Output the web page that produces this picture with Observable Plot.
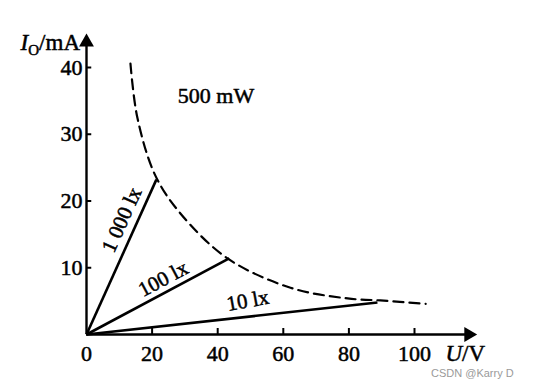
<!DOCTYPE html>
<html><head><meta charset="utf-8">
<script src="https://cdn.jsdelivr.net/npm/d3@7"></script>
<script src="https://cdn.jsdelivr.net/npm/@observablehq/plot@0.6"></script>
<style>
body{margin:0;background:#fff;}
#wrap{position:relative;width:533px;height:391px;}
#wm{position:absolute;left:431px;top:367px;font:11px "Liberation Sans",Arial,sans-serif;color:#9a9a9a;white-space:nowrap;}
</style></head>
<body><div id="wrap"><div id="wm">CSDN @Karry D</div></div>
<script>
// ---- data ----
const xTicks = [0, 20, 40, 60, 80, 100];
const yTicks = [10, 20, 30, 40];
const curveU = [13.4, 15.5, 21.0, 28.7, 43.0, 62.2, 79.6, 89.6, 103.4];
const curveI = [40.6, 32.5, 23.8, 18.1, 11.4, 7.0, 5.4, 5.1, 4.6];
const rayNames = ["1 000 lx", "100 lx", "10 lx"];
const rayU = [21.3, 43.5, 88.7];
const rayI = [23.2, 11.4, 4.8];
const powerLabel = "500 mW";
const xMaxAxis = 118, yMaxAxis = 44.6;

// ---- layout ----
const X_RANGE = [86, 414], Y_RANGE = [334, 67];
const kx = (X_RANGE[1] - X_RANGE[0]) / 100, ky = (Y_RANGE[0] - Y_RANGE[1]) / 40;

const curve = curveU.map((u, i) => ({U: u, I: curveI[i]}));
const rays = rayNames.map((n, i) => ({name: n, U: rayU[i], I: rayI[i]}));
// label placement: fraction along ray, perpendicular pixel offset
const labT = [0.70, 0.58, 0.56], labOff = [15, 13, 16], labExtraRot = [0, 0, -4];
const rayLabels = rays.map((r, i) => {
  const dxp = r.U * kx, dyp = r.I * ky, len = Math.hypot(dxp, dyp);
  const nx = -dyp / len, ny = dxp / len; // up-left normal (pixel, y up)
  return {name: r.name,
    U: labT[i] * r.U + labOff[i] * nx / kx,
    I: labT[i] * r.I + labOff[i] * ny / ky,
    rot: -Math.atan2(dyp, dxp) * 180 / Math.PI + labExtraRot[i]};
});
const serif = '"Liberation Serif","Times New Roman",serif';
const txt = {fill: "#000", stroke: "#000", strokeWidth: 0.5};

const chart = Plot.plot({
  width: 533, height: 391,
  x: {domain: [0, 100], range: X_RANGE, axis: null},
  y: {domain: [0, 40], range: Y_RANGE, axis: null},
  style: {fontFamily: serif, background: "transparent"},
  marks: [
    // axes
    Plot.ruleY([0], {x1: 0, x2: xMaxAxis - 2, strokeWidth: 2.4, stroke: "#000"}),
    Plot.ruleX([0], {y1: 0, y2: yMaxAxis - 1, strokeWidth: 2.4, stroke: "#000"}),
    Plot.dot([xMaxAxis], {x: d => d - 1.5, y: 0, symbol: "triangle", rotate: 90, r: 5.5, fill: "#000", stroke: "none"}),
    Plot.dot([yMaxAxis], {x: 0, y: d => d - 0.8, symbol: "triangle", rotate: 0, r: 5.5, fill: "#000", stroke: "none"}),
    // ticks (inside)
    Plot.ruleX(xTicks.filter(d => d > 0), {x: d => d, y1: 0, y2: 0.9, strokeWidth: 2, stroke: "#000"}),
    Plot.ruleY(yTicks, {y: d => d, x1: 0, x2: 1.6, strokeWidth: 2, stroke: "#000"}),
    Plot.text(xTicks, {x: d => d, y: 0, text: d => String(d), dy: 19, fontSize: 22, ...txt}),
    Plot.text(yTicks, {x: 0, y: d => d, text: d => String(d), dx: -4, textAnchor: "end", fontSize: 22, ...txt}),
    // 500 mW hyperbola
    Plot.line(curve, {x: "U", y: "I", curve: "catmull-rom", stroke: "#000", strokeWidth: 2.2, strokeDasharray: "10,6"}),
    // rays
    Plot.link(rays, {x1: 0, y1: 0, x2: "U", y2: "I", stroke: "#000", strokeWidth: 2.6}),
    Plot.text(rayLabels, {x: "U", y: "I", text: "name", rotate: "rot", fontSize: 21, ...txt}),
    Plot.text([powerLabel], {x: curveU[2] + 18.5, y: curveI[0] - 4.8, text: d => d, fontSize: 22, ...txt})
  ]
});
document.getElementById("wrap").prepend(chart);

// axis titles (rich text)
const svg = d3.select(chart);
const px = u => X_RANGE[0] + u * kx, py = v => Y_RANGE[0] - v * ky;
const yt = svg.append("text").attr("x", px(0) - 6).attr("y", py(yMaxAxis) + 14)
  .attr("text-anchor", "end").attr("font-family", serif).attr("font-size", 23)
  .attr("fill", "#000").attr("stroke", "#000").attr("stroke-width", 0.5);
yt.append("tspan").attr("font-style", "italic").text("I");
yt.append("tspan").attr("font-size", 15).attr("dy", 5).text("O");
yt.append("tspan").attr("dy", -5).text("/mA");
const xt = svg.append("text").attr("x", px(xMaxAxis) + 12).attr("y", py(0) + 27)
  .attr("text-anchor", "end").attr("font-family", serif).attr("font-size", 23)
  .attr("fill", "#000").attr("stroke", "#000").attr("stroke-width", 0.5);
xt.append("tspan").attr("font-style", "italic").text("U");
xt.append("tspan").text("/V");
</script>
</body></html>
